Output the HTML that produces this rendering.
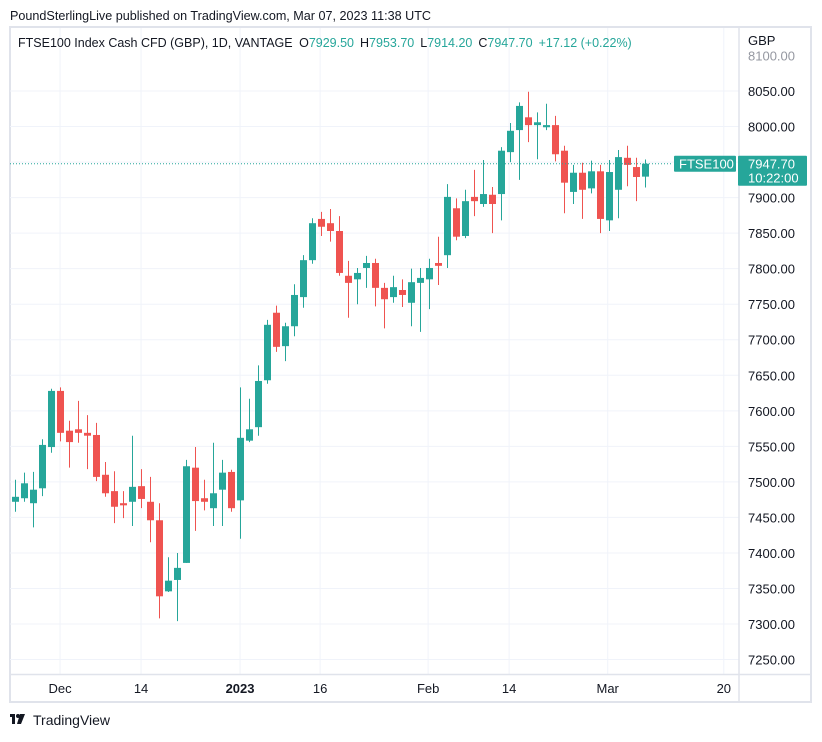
<!DOCTYPE html>
<html><head><meta charset="utf-8">
<style>
body{margin:0;background:#fff;font-family:"Liberation Sans",sans-serif;}
svg text{font-family:"Liberation Sans",sans-serif;}
</style></head>
<body>
<svg id="chart" width="822" height="737" xmlns="http://www.w3.org/2000/svg">
<rect x="0" y="0" width="822" height="737" fill="#fff"/>
<text x="10" y="20" font-size="12.6" fill="#131722">PoundSterlingLive published on TradingView.com, Mar 07, 2023 11:38 UTC</text>
<rect x="10" y="27" width="801" height="675" fill="none" stroke="#e0e3eb" stroke-width="2"/>
<g id="grid"></g>
<g id="candles"></g>
<line x1="739" y1="27" x2="739" y2="702" stroke="#e0e3eb" stroke-width="1.5"/>
<line x1="10" y1="674.5" x2="811" y2="674.5" stroke="#e0e3eb" stroke-width="1.5"/>
<g id="yaxis"></g>
<g id="xaxis"></g>
<text x="748" y="45" font-size="13" fill="#131722">GBP</text>
<g>
<text x="18" y="47" font-size="12.5" fill="#131722">FTSE100 Index Cash CFD (GBP), 1D, VANTAGE <tspan dx="3">O</tspan><tspan fill="#26a69a">7929.50</tspan><tspan dx="6">H</tspan><tspan fill="#26a69a">7953.70</tspan><tspan dx="6">L</tspan><tspan fill="#26a69a">7914.20</tspan><tspan dx="6">C</tspan><tspan fill="#26a69a">7947.70</tspan><tspan dx="6" fill="#26a69a">+17.12 (+0.22%)</tspan></text>
</g>
<g id="lastprice"></g>
<g>
<rect x="10" y="714" width="5" height="3" fill="#131722"/><rect x="12" y="714" width="3" height="10" fill="#131722"/>
<circle cx="18" cy="716" r="2" fill="#131722"/><polygon points="20,714 25,714 21,724 17,724" fill="#131722"/>
<text x="33" y="725" font-size="14" fill="#131722">TradingView</text>
</g>
</svg>
<script>
const opens=[7472,7477,7470,7491,7549,7628,7572,7574,7569,7566,7510,7487,7470,7472,7494,7472,7446,7346,7362,7386,7520,7477,7463,7489,7514,7474,7558,7577,7643,7738,7691,7719,7760,7812,7870,7864,7853,7790,7785,7801,7808,7773,7760,7770,7752,7780,7785,7808,7819,7885,7846,7901,7891,7904,7905,7964,7995,8013,8002,7999,8002,7966,7908,7935,7913,7937,7868,7911,7956,7943,7929.5];
const highs=[7503,7513,7514,7560,7631,7633,7586,7614,7594,7583,7528,7515,7487,7565,7518,7507,7470,7394,7400,7531,7549,7503,7555,7531,7517,7633,7617,7664,7728,7748,7724,7778,7819,7871,7880,7884,7874,7811,7801,7818,7814,7780,7790,7785,7800,7801,7814,7845,7919,7899,7911,7939,7953,7915,7971,8005,8034,8049,8020,8032,8015,7973,7946,7949,7952,7946,7953,7967,7973,7956,7953.7];
const lows=[7458,7472,7436,7480,7541,7557,7520,7555,7518,7501,7479,7442,7449,7438,7463,7415,7308,7345,7304,7386,7431,7460,7438,7438,7458,7420,7556,7565,7638,7683,7670,7705,7745,7807,7846,7838,7790,7731,7750,7773,7747,7716,7752,7746,7719,7711,7743,7777,7801,7840,7843,7874,7887,7850,7868,7950,7925,7978,7954,7995,7951,7878,7891,7870,7906,7850,7853,7871,7916,7895,7914.2];
const closes=[7479,7498,7489,7552,7628,7569,7556,7569,7565,7507,7484,7465,7467,7493,7476,7446,7339,7361,7379,7522,7473,7472,7484,7513,7463,7562,7574,7642,7721,7690,7719,7763,7812,7864,7859,7853,7794,7780,7794,7808,7773,7757,7774,7763,7781,7787,7801,7804,7901,7845,7895,7895,7905,7891,7966,7994,8029,8002,8006,8002,7961,7921,7935,7911,7937,7870,7936,7957,7946,7929,7947.7];
const priceTicks=[8100,8050,8000,7950,7900,7850,7800,7750,7700,7650,7600,7550,7500,7450,7400,7350,7300,7250];
const timeLabels=["Dec","14","2023","16","Feb","14","Mar","20"];
const timeIdx=[4.95,13.95,24.95,33.85,45.85,54.85,65.8,78.7];
const lastPrice=7947.70;

const NS="http://www.w3.org/2000/svg";
function yS(p){return 91+(8050-p)*0.7107;}
function xS(i){return 15.5+9*i;}
function mk(tag,attrs,parent){const e=document.createElementNS(NS,tag);for(const k in attrs)e.setAttribute(k,attrs[k]);parent.appendChild(e);return e;}
const grid=document.getElementById('grid'),cg=document.getElementById('candles'),ya=document.getElementById('yaxis'),xa=document.getElementById('xaxis');
priceTicks.forEach(p=>{
  const y=yS(p);
  if(p<8100){const l=mk('line',{x1:10,x2:739,y1:y,y2:y,stroke:'#f0f3fa','stroke-width':1},grid);
  
  }
  const t=mk('text',{x:748,y:y+5,'font-size':13,fill:p===8100?'#9598a1':'#131722'},ya);
  t.textContent=p.toFixed(2);
  
  
});
timeLabels.forEach((lab,k)=>{
  const x=xS(timeIdx[k]);
  const l=mk('line',{x1:x,x2:x,y1:28,y2:674,stroke:'#f0f3fa','stroke-width':1},grid);
  
  
  const t=mk('text',{x:x,y:693,'font-size':13,fill:'#131722','text-anchor':'middle','font-weight':lab==='2023'?'bold':'normal'},xa);
  t.textContent=lab;
  
  
});
opens.forEach((o,i)=>{
  const c=closes[i],up=c>=o,col=up?'#26a69a':'#ef5350',x=xS(i);
  const g=mk('g',{},cg);
  
  
  mk('line',{x1:x,x2:x,y1:yS(highs[i]),y2:yS(lows[i]),stroke:col,'stroke-width':1},g);
  const top=yS(Math.max(o,c)),bot=yS(Math.min(o,c));
  mk('rect',{x:x-3.5,y:top,width:7,height:Math.max(1,bot-top),fill:col},g);
});
const lp=document.getElementById('lastprice'),ly=yS(lastPrice);
mk('line',{x1:10,x2:672,y1:ly,y2:ly,stroke:'#26a69a','stroke-width':1,'stroke-dasharray':'1 2'},lp);
mk('rect',{x:674,y:ly-8,width:62,height:16,rx:1,fill:'#26a69a'},lp);
const t1=mk('text',{x:679,y:ly+5,'font-size':13,fill:'#fff'},lp);t1.textContent='FTSE100';
mk('rect',{x:738,y:ly-8,width:69,height:30,rx:1,fill:'#26a69a'},lp);
const t2=mk('text',{x:748,y:ly+5,'font-size':13,fill:'#fff'},lp);t2.textContent=lastPrice.toFixed(2);
const t3=mk('text',{x:748,y:ly+19,'font-size':13,fill:'#fff'},lp);t3.textContent='10:22:00';
</script>
</body></html>
